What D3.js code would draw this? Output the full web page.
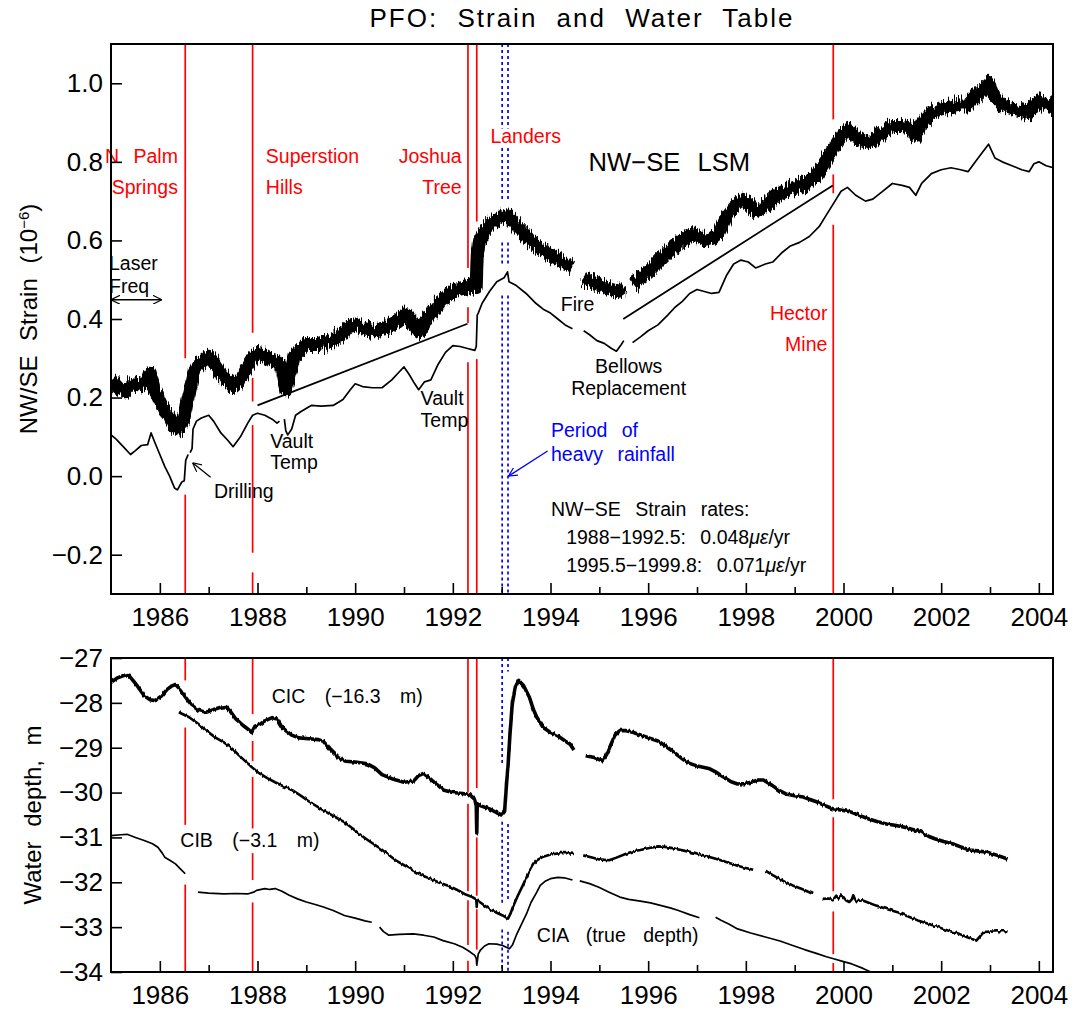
<!DOCTYPE html>
<html><head><meta charset="utf-8">
<script src="https://cdn.jsdelivr.net/npm/d3@7"></script>
<style>body{margin:0;background:#fff}</style>
</head><body>
<svg id="c" width="1073" height="1009"></svg>
<script>
// ---------------- DATA ----------------
const xMajorTicks = [1986,1988,1990,1992,1994,1996,1998,2000,2002,2004];
const xMinorTicks = [1987,1989,1991,1993,1995,1997,1999,2001,2003];
const strainTicks = [-0.2,0,0.2,0.4,0.6,0.8,1.0];
const depthTicks = [-34,-33,-32,-31,-30,-29,-28,-27];

const quakeNames = ["N Palm Springs","Superstition Hills","Joshua Tree","Landers","Hector Mine"];
const quakeYears = [1986.52, 1987.90, 1992.31, 1992.49, 1999.79];
// visible pieces of each earthquake line (strain units, top panel)
const quakeSegStrain = [
  [[1.1,0.30],[-0.047,-0.3]],
  [[1.1,0.365],[0.25,0.19],[0.13,-0.195],[-0.245,-0.3]],
  [[1.1,0.53],[0.43,0.39],[0.29,-0.3]],
  [[1.1,0.648],[0.298,-0.3]],
  [[1.1,0.908],[0.768,0.72],[0.64,-0.3]]
];
// visible pieces (depth units, bottom panel)
const quakeSegDepth = [
  [[-27,-27.5],[-28.55,-30.72],[-32.05,-34]],
  [[-27,-28.25],[-28.85,-29.3],[-29.65,-30.8],[-31.35,-31.95],[-32.45,-34]],
  [[-27,-30.0],[-30.25,-32.2],[-32.4,-33.4],[-33.75,-34]],
  [[-27,-29.9],[-31.0,-32.3],[-32.6,-33.5]],
  [[-27,-30.15],[-30.55,-32.2],[-32.65,-33.6],[-33.8,-34]]
];
const rainYears = [1993.01, 1993.13];
const rainSegStrain = [
  [[1.1,0.885],[0.835,0.70],[0.595,0.535],[0.46,-0.3]],
  [[1.1,0.885],[0.835,0.70],[0.595,0.535],[0.46,-0.3]]
];
const rainSegDepth = [
  [[-27,-29.4],[-30.65,-32.5],[-33.05,-34]],
  [[-27,-27.3],[-30.7,-32.4],[-33.1,-34]]
];

// NW-SE LSM raw strain (thick noisy band), null = data gap
const bandYear = [1985.00,1985.15,1985.30,1985.45,1985.60,1985.72,1985.80,1985.88,1986.00,1986.10,1986.20,1986.30,1986.38,1986.45,1986.50,1986.55,1986.62,1986.70,1986.80,1986.90,1987.00,1987.10,1987.25,1987.40,1987.50,1987.60,1987.75,1987.90,1988.00,1988.15,1988.30,1988.45,1988.52,1988.58,1988.65,1988.75,1988.90,1989.00,1989.25,1989.50,1989.70,1989.85,1990.00,1990.20,1990.40,1990.60,1990.80,1991.00,1991.10,1991.25,1991.32,1991.45,1991.60,1991.75,1991.90,1992.05,1992.20,1992.40,1992.48,1992.50,1992.55,1992.65,1992.80,1992.95,1993.10,1993.25,1993.45,1993.60,1993.80,1994.00,1994.20,1994.30,1994.45,1994.56,1994.68,1994.80,1994.95,1995.10,1995.25,1995.38,1995.50,1995.59,1995.68,1995.85,1996.00,1996.20,1996.40,1996.55,1996.70,1996.85,1997.00,1997.15,1997.30,1997.45,1997.60,1997.75,1997.90,1998.05,1998.20,1998.30,1998.50,1998.70,1998.85,1999.00,1999.20,1999.40,1999.55,1999.70,1999.85,2000.00,2000.10,2000.25,2000.45,2000.60,2000.80,2001.00,2001.20,2001.40,2001.48,2001.60,2001.80,2002.00,2002.20,2002.40,2002.55,2002.70,2002.85,2002.97,2003.10,2003.25,2003.45,2003.65,2003.80,2003.90,2004.00,2004.15,2004.30];
const bandStrain = [0.245,0.225,0.215,0.235,0.232,0.24,0.262,0.225,0.19,0.165,0.15,0.125,0.12,0.135,0.15,0.185,0.22,0.265,0.285,0.295,0.305,0.29,0.26,0.24,0.228,0.24,0.27,0.30,0.31,0.305,0.295,0.29,0.26,0.22,0.25,0.305,0.325,0.335,0.335,0.345,0.355,0.38,0.385,0.375,0.37,0.375,0.39,0.41,0.405,0.375,0.365,0.395,0.42,0.445,0.46,0.475,0.48,0.485,0.48,0.57,0.60,0.625,0.645,0.655,0.665,0.645,0.62,0.597,0.58,0.563,0.55,0.54,0.532,null,0.505,0.495,0.49,0.482,0.475,0.47,0.48,null,0.49,0.505,0.52,0.545,0.57,0.585,0.60,0.615,0.612,0.60,0.605,0.62,0.66,0.685,0.70,0.695,0.675,0.68,0.70,0.72,0.73,0.735,0.745,0.76,0.785,0.815,0.845,0.875,0.88,0.865,0.85,0.855,0.875,0.89,0.89,0.885,0.865,0.90,0.925,0.935,0.94,0.945,0.945,0.965,0.985,1.0,0.965,0.945,0.935,0.93,0.925,0.945,0.955,0.945,0.94];

// corrected strain (thin line)
const corrYear = [1985.00,1985.10,1985.25,1985.40,1985.50,1985.62,1985.75,1985.82,1985.90,1986.00,1986.10,1986.20,1986.30,1986.36,1986.45,1986.50,1986.53,1986.58,1986.60,1986.62,1986.66,1986.68,1986.75,1986.85,1987.00,1987.10,1987.25,1987.40,1987.50,1987.65,1987.80,1987.90,1988.00,1988.15,1988.30,1988.40,1988.45,1988.50,1988.55,1988.58,1988.62,1988.70,1988.78,1988.90,1989.10,1989.30,1989.55,1989.75,1989.90,1990.00,1990.15,1990.35,1990.55,1990.75,1990.90,1991.00,1991.10,1991.22,1991.30,1991.42,1991.55,1991.70,1991.85,1992.00,1992.15,1992.30,1992.45,1992.48,1992.50,1992.52,1992.60,1992.75,1992.90,1993.05,1993.12,1993.15,1993.30,1993.50,1993.70,1993.85,1994.00,1994.15,1994.30,1994.45,1994.56,1994.68,1994.80,1994.95,1995.10,1995.25,1995.35,1995.45,1995.50,1995.59,1995.68,1995.85,1996.00,1996.20,1996.40,1996.55,1996.70,1996.85,1997.00,1997.15,1997.30,1997.45,1997.60,1997.75,1997.90,1998.05,1998.20,1998.40,1998.55,1998.75,1998.90,1999.10,1999.30,1999.50,1999.65,1999.80,1999.95,2000.08,2000.25,2000.45,2000.60,2000.80,2001.00,2001.20,2001.35,2001.48,2001.60,2001.80,2002.00,2002.20,2002.40,2002.55,2002.70,2002.85,2002.97,2003.10,2003.25,2003.45,2003.65,2003.80,2003.90,2004.00,2004.15,2004.30];
const corrStrain = [0.105,0.095,0.075,0.055,0.065,0.078,0.08,0.11,0.085,0.055,0.025,0.0,-0.03,-0.035,-0.015,-0.012,0.04,0.055,null,0.06,0.07,0.12,0.14,0.148,0.155,0.14,0.11,0.09,0.075,0.10,0.135,0.155,0.16,0.155,0.145,0.135,0.14,null,0.145,0.115,0.105,0.12,0.155,0.165,0.18,0.178,0.18,0.195,0.22,0.235,0.228,0.225,0.225,0.245,0.265,0.278,0.26,0.235,0.22,0.24,0.245,0.285,0.315,0.332,0.33,0.325,0.32,0.33,0.41,0.415,0.44,0.47,0.495,0.505,0.52,0.495,0.485,0.465,0.44,0.425,0.415,0.40,0.385,0.375,null,0.37,0.36,0.345,0.338,0.325,0.318,0.335,0.345,null,0.34,0.355,0.37,0.385,0.41,0.43,0.445,0.465,0.475,0.47,0.465,0.468,0.51,0.54,0.55,0.545,0.53,0.54,0.545,0.57,0.585,0.595,0.61,0.635,0.665,0.695,0.725,0.735,0.715,0.70,0.705,0.725,0.745,0.74,0.735,0.715,0.745,0.77,0.78,0.785,0.78,0.775,0.80,0.825,0.845,0.81,0.80,0.79,0.78,0.775,0.795,0.80,0.79,0.785];

// strain-rate fit lines [year, strain]
const fitLines = [
  [[1988.0,0.18],[1992.3,0.388]],
  [[1995.49,0.40],[1999.78,0.74]]
];

// well water levels (m)
const cicYear = [1985.00,1985.12,1985.26,1985.35,1985.45,1985.55,1985.68,1985.80,1985.90,1986.04,1986.15,1986.25,1986.32,1986.42,1986.53,1986.65,1986.80,1986.95,1987.10,1987.25,1987.35,1987.45,1987.55,1987.70,1987.82,1987.88,1987.95,1988.05,1988.15,1988.30,1988.40,1988.50,1988.58,1988.70,1988.85,1989.05,1989.25,1989.35,1989.50,1989.65,1989.80,1990.00,1990.25,1990.40,1990.55,1990.75,1991.00,1991.20,1991.30,1991.40,1991.52,1991.65,1991.82,1992.00,1992.20,1992.35,1992.45,1992.48,1992.49,1992.50,1992.56,1992.74,1992.90,1993.00,1993.06,1993.10,1993.13,1993.17,1993.22,1993.28,1993.35,1993.45,1993.57,1993.65,1993.72,1993.85,1994.00,1994.14,1994.30,1994.40,1994.48,1994.60,1994.72,1994.90,1995.06,1995.15,1995.24,1995.32,1995.42,1995.55,1995.70,1995.90,1996.06,1996.20,1996.34,1996.50,1996.70,1996.85,1996.98,1997.15,1997.26,1997.40,1997.55,1997.70,1997.83,1997.98,1998.11,1998.25,1998.36,1998.45,1998.54,1998.68,1998.82,1999.00,1999.18,1999.30,1999.46,1999.62,1999.78,2000.00,2000.17,2000.35,2000.52,2000.70,2000.88,2001.05,2001.23,2001.40,2001.59,2001.75,2001.87,2002.05,2002.23,2002.40,2002.58,2002.75,2002.94,2003.15,2003.36];
const cicDepth = [-27.54,-27.45,-27.39,-27.37,-27.50,-27.64,-27.84,-27.93,-27.95,-27.84,-27.70,-27.62,-27.59,-27.70,-27.88,-28.05,-28.17,-28.21,-28.15,-28.10,-28.08,-28.20,-28.35,-28.50,-28.60,-28.66,-28.52,-28.48,-28.40,-28.33,-28.36,-28.54,-28.62,-28.72,-28.78,-28.80,-28.82,-28.86,-29.06,-29.22,-29.30,-29.32,-29.36,-29.45,-29.60,-29.69,-29.77,-29.74,-29.62,-29.57,-29.68,-29.80,-29.95,-30.00,-30.02,-30.05,-30.15,-30.30,-30.90,-30.25,-30.29,-30.36,-30.45,-30.50,-30.42,-29.80,-29.40,-28.70,-28.00,-27.65,-27.50,-27.62,-27.88,-28.15,-28.32,-28.55,-28.66,-28.73,-28.85,-28.92,-29.05,null,-29.18,-29.22,-29.29,-29.15,-28.92,-28.72,-28.62,-28.62,-28.66,-28.74,-28.80,-28.85,-28.95,-29.08,-29.25,-29.35,-29.40,-29.44,-29.47,-29.55,-29.66,-29.76,-29.81,-29.80,-29.77,-29.72,-29.72,-29.78,-29.84,-29.95,-30.03,-30.07,-30.10,-30.15,-30.21,-30.29,-30.36,-30.40,-30.44,-30.52,-30.59,-30.65,-30.70,-30.73,-30.77,-30.82,-30.88,-30.98,-31.03,-31.09,-31.14,-31.21,-31.28,-31.30,-31.33,-31.40,-31.48];

const cibYear = [1986.39,1986.60,1986.80,1986.95,1987.15,1987.31,1987.50,1987.66,1987.85,1988.01,1988.20,1988.36,1988.55,1988.72,1988.90,1989.07,1989.25,1989.42,1989.60,1989.78,1989.95,1990.13,1990.30,1990.48,1990.65,1990.83,1991.00,1991.19,1991.36,1991.54,1991.70,1991.89,1992.05,1992.24,1992.40,1992.48,1992.49,1992.50,1992.60,1992.74,1992.90,1993.02,1993.13,1993.18,1993.23,1993.33,1993.45,1993.57,1993.65,1993.72,1993.85,1994.00,1994.20,1994.35,1994.48,1994.58,1994.67,1994.85,1995.00,1995.20,1995.35,1995.56,1995.70,1995.84,1996.00,1996.20,1996.35,1996.55,1996.75,1996.98,1997.20,1997.40,1997.60,1997.83,1998.00,1998.15,1998.28,1998.40,1998.55,1998.68,1998.82,1998.96,1999.15,1999.38,1999.48,1999.57,1999.70,1999.78,1999.85,1999.90,1999.96,2000.05,2000.12,2000.17,2000.20,2000.25,2000.38,2000.50,2000.67,2000.90,2001.09,2001.30,2001.52,2001.75,2001.94,2002.15,2002.37,2002.55,2002.72,2002.80,2002.87,2003.00,2003.20,2003.36];
const cibDepth = [-28.21,-28.32,-28.48,-28.62,-28.78,-28.88,-29.04,-29.21,-29.40,-29.55,-29.68,-29.77,-29.87,-29.95,-30.08,-30.21,-30.33,-30.44,-30.55,-30.66,-30.80,-30.96,-31.09,-31.22,-31.36,-31.51,-31.62,-31.74,-31.84,-31.92,-32.00,-32.07,-32.15,-32.26,-32.33,-32.38,-32.55,-32.40,-32.48,-32.59,-32.68,-32.74,-32.81,-32.70,-32.55,-32.30,-32.03,-31.75,-31.60,-31.51,-31.43,-31.38,-31.35,-31.35,-31.37,null,-31.40,-31.45,-31.49,-31.51,-31.45,-31.36,-31.31,-31.28,-31.24,-31.20,-31.21,-31.25,-31.30,-31.35,-31.42,-31.48,-31.55,-31.63,-31.68,-31.72,null,-31.74,-31.84,-31.92,-32.00,-32.07,-32.15,-32.26,null,-32.37,-32.36,-32.40,-32.30,-32.36,-32.28,-32.40,-32.44,-32.38,-32.29,-32.42,-32.40,-32.45,-32.52,-32.60,-32.66,-32.75,-32.85,-32.93,-33.00,-33.08,-33.15,-33.23,-33.30,-33.20,-33.11,-33.10,-33.09,-33.09];

const ciaYear = [1985.00,1985.20,1985.33,1985.50,1985.68,1985.85,1985.96,1986.05,1986.10,1986.22,1986.32,1986.42,1986.52,1986.65,1986.78,1987.00,1987.31,1987.55,1987.80,1987.92,1987.98,1988.15,1988.25,1988.36,1988.50,1988.65,1988.82,1989.00,1989.20,1989.35,1989.55,1989.78,1990.00,1990.20,1990.34,1990.42,1990.50,1990.58,1990.69,1990.90,1991.19,1991.40,1991.61,1991.80,1992.03,1992.20,1992.31,1992.45,1992.48,1992.49,1992.52,1992.56,1992.65,1992.74,1992.90,1993.02,1993.16,1993.22,1993.30,1993.40,1993.51,1993.60,1993.72,1993.79,1993.90,1994.00,1994.15,1994.28,1994.45,1994.52,1994.60,1994.80,1994.99,1995.20,1995.42,1995.60,1995.84,1996.05,1996.27,1996.45,1996.62,1996.85,1997.05,1997.20,1997.38,1997.50,1997.65,1997.83,1998.10,1998.40,1998.70,1998.96,1999.20,1999.46,1999.65,1999.78,2000.00,2000.17,2000.40,2000.60];
const ciaDepth = [-30.96,-30.94,-30.93,-31.00,-31.07,-31.14,-31.22,-31.35,-31.44,-31.52,-31.59,-31.70,-31.81,null,-32.22,-32.24,-32.26,-32.25,-32.26,-32.22,-32.18,-32.14,-32.16,-32.14,-32.20,-32.29,-32.37,-32.44,-32.50,-32.55,-32.63,-32.74,-32.80,-32.86,-32.89,null,-33.00,-33.10,-33.18,-33.16,-33.15,-33.18,-33.22,-33.30,-33.37,-33.45,-33.52,-33.63,-33.70,-33.85,-33.60,-33.52,-33.42,-33.37,-33.38,-33.41,-33.48,-33.40,-33.18,-32.95,-32.70,-32.45,-32.22,-32.07,-31.97,-31.92,-31.89,-31.90,-31.95,null,-31.97,-32.03,-32.11,-32.22,-32.33,-32.38,-32.42,-32.46,-32.52,-32.57,-32.63,-32.72,-32.79,null,-32.78,-32.85,-32.93,-33.04,-33.13,-33.22,-33.31,-33.41,-33.50,-33.59,-33.66,-33.70,-33.77,-33.82,-33.92,-34.02];

// ---------------- DRAWING ----------------
const W = 1073, H = 1009;
const FONT = "'Liberation Sans', Arial, sans-serif";
const L = 111, R = 1053;
const x = d3.scaleLinear().domain([1985, 2004.29]).range([L, R]);
const yS = d3.scaleLinear().domain([-0.3, 1.1]).range([594, 44]);
const yW = d3.scaleLinear().domain([-34, -27]).range([972, 658]);

const svg = d3.select("#c");
svg.append("rect").attr("width", W).attr("height", H).attr("fill", "#fff");
const defs = svg.append("defs");
[["clipS", yS], ["clipW", yW]].forEach(([id, y]) => {
  defs.append("clipPath").attr("id", id).append("rect")
    .attr("x", L).attr("y", y.range()[1]).attr("width", R - L).attr("height", y.range()[0] - y.range()[1]);
});
// texture filter: jitters a stroke vertically column by column (noisy recording look)
function jitterFilter(id, freq, scale) {
  const f = defs.append("filter").attr("id", id).attr("x", "-2%").attr("y", "-10%")
    .attr("width", "104%").attr("height", "120%");
  f.append("feTurbulence").attr("type", "fractalNoise").attr("baseFrequency", freq)
    .attr("numOctaves", 2).attr("seed", 7).attr("result", "n");
  f.append("feColorMatrix").attr("in", "n").attr("type", "matrix")
    .attr("values", "0 0 0 0 0.5  1 0 0 0 0  0 0 1 0 0  0 0 0 0 1").attr("result", "m");
  f.append("feDisplacementMap").attr("in", "SourceGraphic").attr("in2", "m")
    .attr("scale", scale).attr("xChannelSelector", "R").attr("yChannelSelector", "G");
}
jitterFilter("jagBand", "0.7 0.06", 16);
jitterFilter("jagWell", "0.5 0.05", 4);

function marker(id, color) {
  defs.append("marker").attr("id", id).attr("viewBox", "0 0 10 10")
    .attr("refX", 10).attr("refY", 5).attr("markerWidth", 9).attr("markerHeight", 9)
    .attr("markerUnits", "userSpaceOnUse").attr("orient", "auto-start-reverse")
    .append("path").attr("d", "M0,0 L10,5 L0,10").attr("fill", "none")
    .attr("stroke", color).attr("stroke-width", 1.3);
}
marker("arrK", "#000"); marker("arrB", "#0000ff");

function series(xs, ys) { return d3.zip(xs, ys); }
function drawLine(g, y, pts, w, filter) {
  const line = d3.line().defined(d => d[1] !== null).x(d => x(d[0])).y(d => y(d[1]));
  g.append("path").attr("d", line(pts)).attr("fill", "none").attr("stroke", "#000")
    .attr("stroke-width", w).attr("stroke-linejoin", "round").attr("stroke-linecap", "butt")
    .attr("filter", filter ? `url(#${filter})` : null);
}
function vsegs(g, y, years, segs, color, dash) {
  years.forEach((yr, i) => {
    segs[i].forEach(s => {
      g.append("line").attr("x1", x(yr)).attr("x2", x(yr)).attr("y1", y(s[0])).attr("y2", y(s[1]))
        .attr("stroke", color).attr("stroke-width", 1.7).attr("stroke-dasharray", dash || null);
    });
  });
}
function axes(y, ticks, fmt) {
  const y0 = y.range()[0], y1 = y.range()[1];
  svg.append("g").attr("transform", `translate(0,${y0})`)
    .call(d3.axisBottom(x).tickValues(xMajorTicks).tickSizeInner(-11).tickSizeOuter(0).tickPadding(14).tickFormat(d3.format("d")));
  svg.append("g").attr("transform", `translate(0,${y0})`)
    .call(d3.axisBottom(x).tickValues(xMinorTicks).tickSizeInner(-7).tickSizeOuter(0).tickFormat(""));
  svg.append("g").attr("transform", `translate(${L},0)`)
    .call(d3.axisLeft(y).tickValues(ticks).tickSizeInner(-11).tickSizeOuter(0).tickPadding(8).tickFormat(fmt));
  svg.selectAll(".domain").remove();
  svg.selectAll(".tick line").attr("stroke", "#000").attr("stroke-width", 1.6);
  svg.selectAll(".tick text").attr("font-family", FONT).attr("font-size", 26).attr("fill", "#000");
  svg.append("rect").attr("x", L).attr("y", y1).attr("width", R - L).attr("height", y0 - y1)
    .attr("fill", "none").attr("stroke", "#000").attr("stroke-width", 2);
}
function label(g, y, yr, v, txt, opts) {
  opts = opts || {};
  const t = g.append("text").attr("x", x(yr) + (opts.dx || 0)).attr("y", y(v))
    .attr("font-family", FONT).attr("font-size", opts.size || 19.5)
    .attr("fill", opts.color || "#000").attr("text-anchor", opts.anchor || "start")
    .attr("word-spacing", opts.ws !== undefined ? opts.ws : 9);
  if (opts.parts) {
    opts.parts.forEach(p => { const s = t.append("tspan").text(p[0]); if (p[1]) s.attr("font-style", "italic"); });
  } else t.text(txt);
  return t;
}
function arrow(g, y, a, b, color, id, both) {
  g.append("line").attr("x1", x(a[0])).attr("y1", y(a[1])).attr("x2", x(b[0])).attr("y2", y(b[1]))
    .attr("stroke", color).attr("stroke-width", 1.3)
    .attr("marker-end", `url(#${id})`).attr("marker-start", both ? `url(#${id})` : null);
}

// ---- Top panel ----
const topG = svg.append("g");
const topData = topG.append("g").attr("clip-path", "url(#clipS)");
vsegs(topData, yS, quakeYears, quakeSegStrain, "#ff0000");
vsegs(topData, yS, rainYears, rainSegStrain, "#0000ff", "3,3");
drawLine(topData, yS, series(bandYear, bandStrain), 13, "jagBand");
drawLine(topData, yS, series(corrYear, corrStrain), 1.7);
fitLines.forEach(f => drawLine(topData, yS, f, 1.8));
axes(yS, strainTicks, d3.format(".1f"));

const red = "#ff0000", blue = "#0000ff";
label(topG, yS, 1986.37, 0.797, "N Palm", {color: red, anchor: "end"});
label(topG, yS, 1986.37, 0.719, "Springs", {color: red, anchor: "end"});
label(topG, yS, 1988.17, 0.797, "Superstion", {color: red});
label(topG, yS, 1988.17, 0.719, "Hills", {color: red});
label(topG, yS, 1992.18, 0.797, "Joshua", {color: red, anchor: "end"});
label(topG, yS, 1992.18, 0.719, "Tree", {color: red, anchor: "end"});
label(topG, yS, 1992.77, 0.849, "Landers", {color: red});
label(topG, yS, 1999.67, 0.398, "Hector", {color: red, anchor: "end"});
label(topG, yS, 1999.67, 0.319, "Mine", {color: red, anchor: "end"});
label(topG, yS, 1994.78, 0.776, "NW−SE LSM", {size: 25.6, ws: 10});
label(topG, yS, 1985.0, 0.525, "Laser", {dx: -2});
label(topG, yS, 1985.0, 0.466, "Freq", {dx: -2});
arrow(topG, yS, [1985.0, 0.449], [1986.04, 0.449], "#000", "arrK", true);
label(topG, yS, 1987.11, -0.055, "Drilling");
arrow(topG, yS, [1987.04, -0.003], [1986.67, 0.034], "#000", "arrK");
label(topG, yS, 1988.26, 0.072, "Vault");
label(topG, yS, 1988.26, 0.017, "Temp");
label(topG, yS, 1991.34, 0.181, "Vault");
label(topG, yS, 1991.34, 0.126, "Temp");
label(topG, yS, 1994.21, 0.42, "Fire");
label(topG, yS, 1995.6, 0.262, "Bellows", {anchor: "middle"});
label(topG, yS, 1995.6, 0.207, "Replacement", {anchor: "middle"});
label(topG, yS, 1994.01, 0.10, "Period of", {color: blue});
label(topG, yS, 1994.01, 0.038, "heavy rainfall", {color: blue});
arrow(topG, yS, [1993.94, 0.064], [1993.14, 0.0], blue, "arrB");
label(topG, yS, 1994.01, -0.102, "NW−SE Strain rates:");
label(topG, yS, 1994.32, -0.172, null, {parts: [["1988−1992.5: 0.048"], ["με", true], ["/yr"]]});
label(topG, yS, 1994.32, -0.243, null, {parts: [["1995.5−1999.8: 0.071"], ["με", true], ["/yr"]]});

// ---- Bottom panel ----
const botG = svg.append("g");
const botData = botG.append("g").attr("clip-path", "url(#clipW)");
vsegs(botData, yW, quakeYears, quakeSegDepth, "#ff0000");
vsegs(botData, yW, rainYears, rainSegDepth, "#0000ff", "3,3");
drawLine(botData, yW, series(cicYear, cicDepth), 3.6, "jagWell");
drawLine(botData, yW, series(cibYear, cibDepth), 2.6, "jagWell");
drawLine(botData, yW, series(ciaYear, ciaDepth), 1.7);
axes(yW, depthTicks, d3.format("d"));
label(botG, yW, 1988.29, -28.01, "CIC (−16.3 m)", {ws: 14});
label(botG, yW, 1986.42, -31.22, "CIB (−3.1 m)", {ws: 14});
label(botG, yW, 1993.72, -33.33, "CIA (true depth)", {ws: 12});

// ---- Titles ----
svg.append("text").attr("x", (L + R) / 2).attr("y", 27).attr("text-anchor", "middle")
  .attr("font-family", FONT).attr("font-size", 26).attr("letter-spacing", 2).attr("word-spacing", 10)
  .text("PFO: Strain and Water Table");
const yt = svg.append("text").attr("transform", `translate(37,${(44 + 594) / 2}) rotate(-90)`)
  .attr("text-anchor", "middle").attr("font-family", FONT).attr("font-size", 24).attr("word-spacing", 8);
yt.append("tspan").text("NW/SE Strain (10");
yt.append("tspan").attr("baseline-shift", "super").attr("font-size", 15).text("−6");
yt.append("tspan").text(")");
svg.append("text").attr("transform", `translate(41,${(658 + 972) / 2}) rotate(-90)`)
  .attr("text-anchor", "middle").attr("font-family", FONT).attr("font-size", 24).attr("word-spacing", 8)
  .text("Water depth, m");
</script>
</body></html>
